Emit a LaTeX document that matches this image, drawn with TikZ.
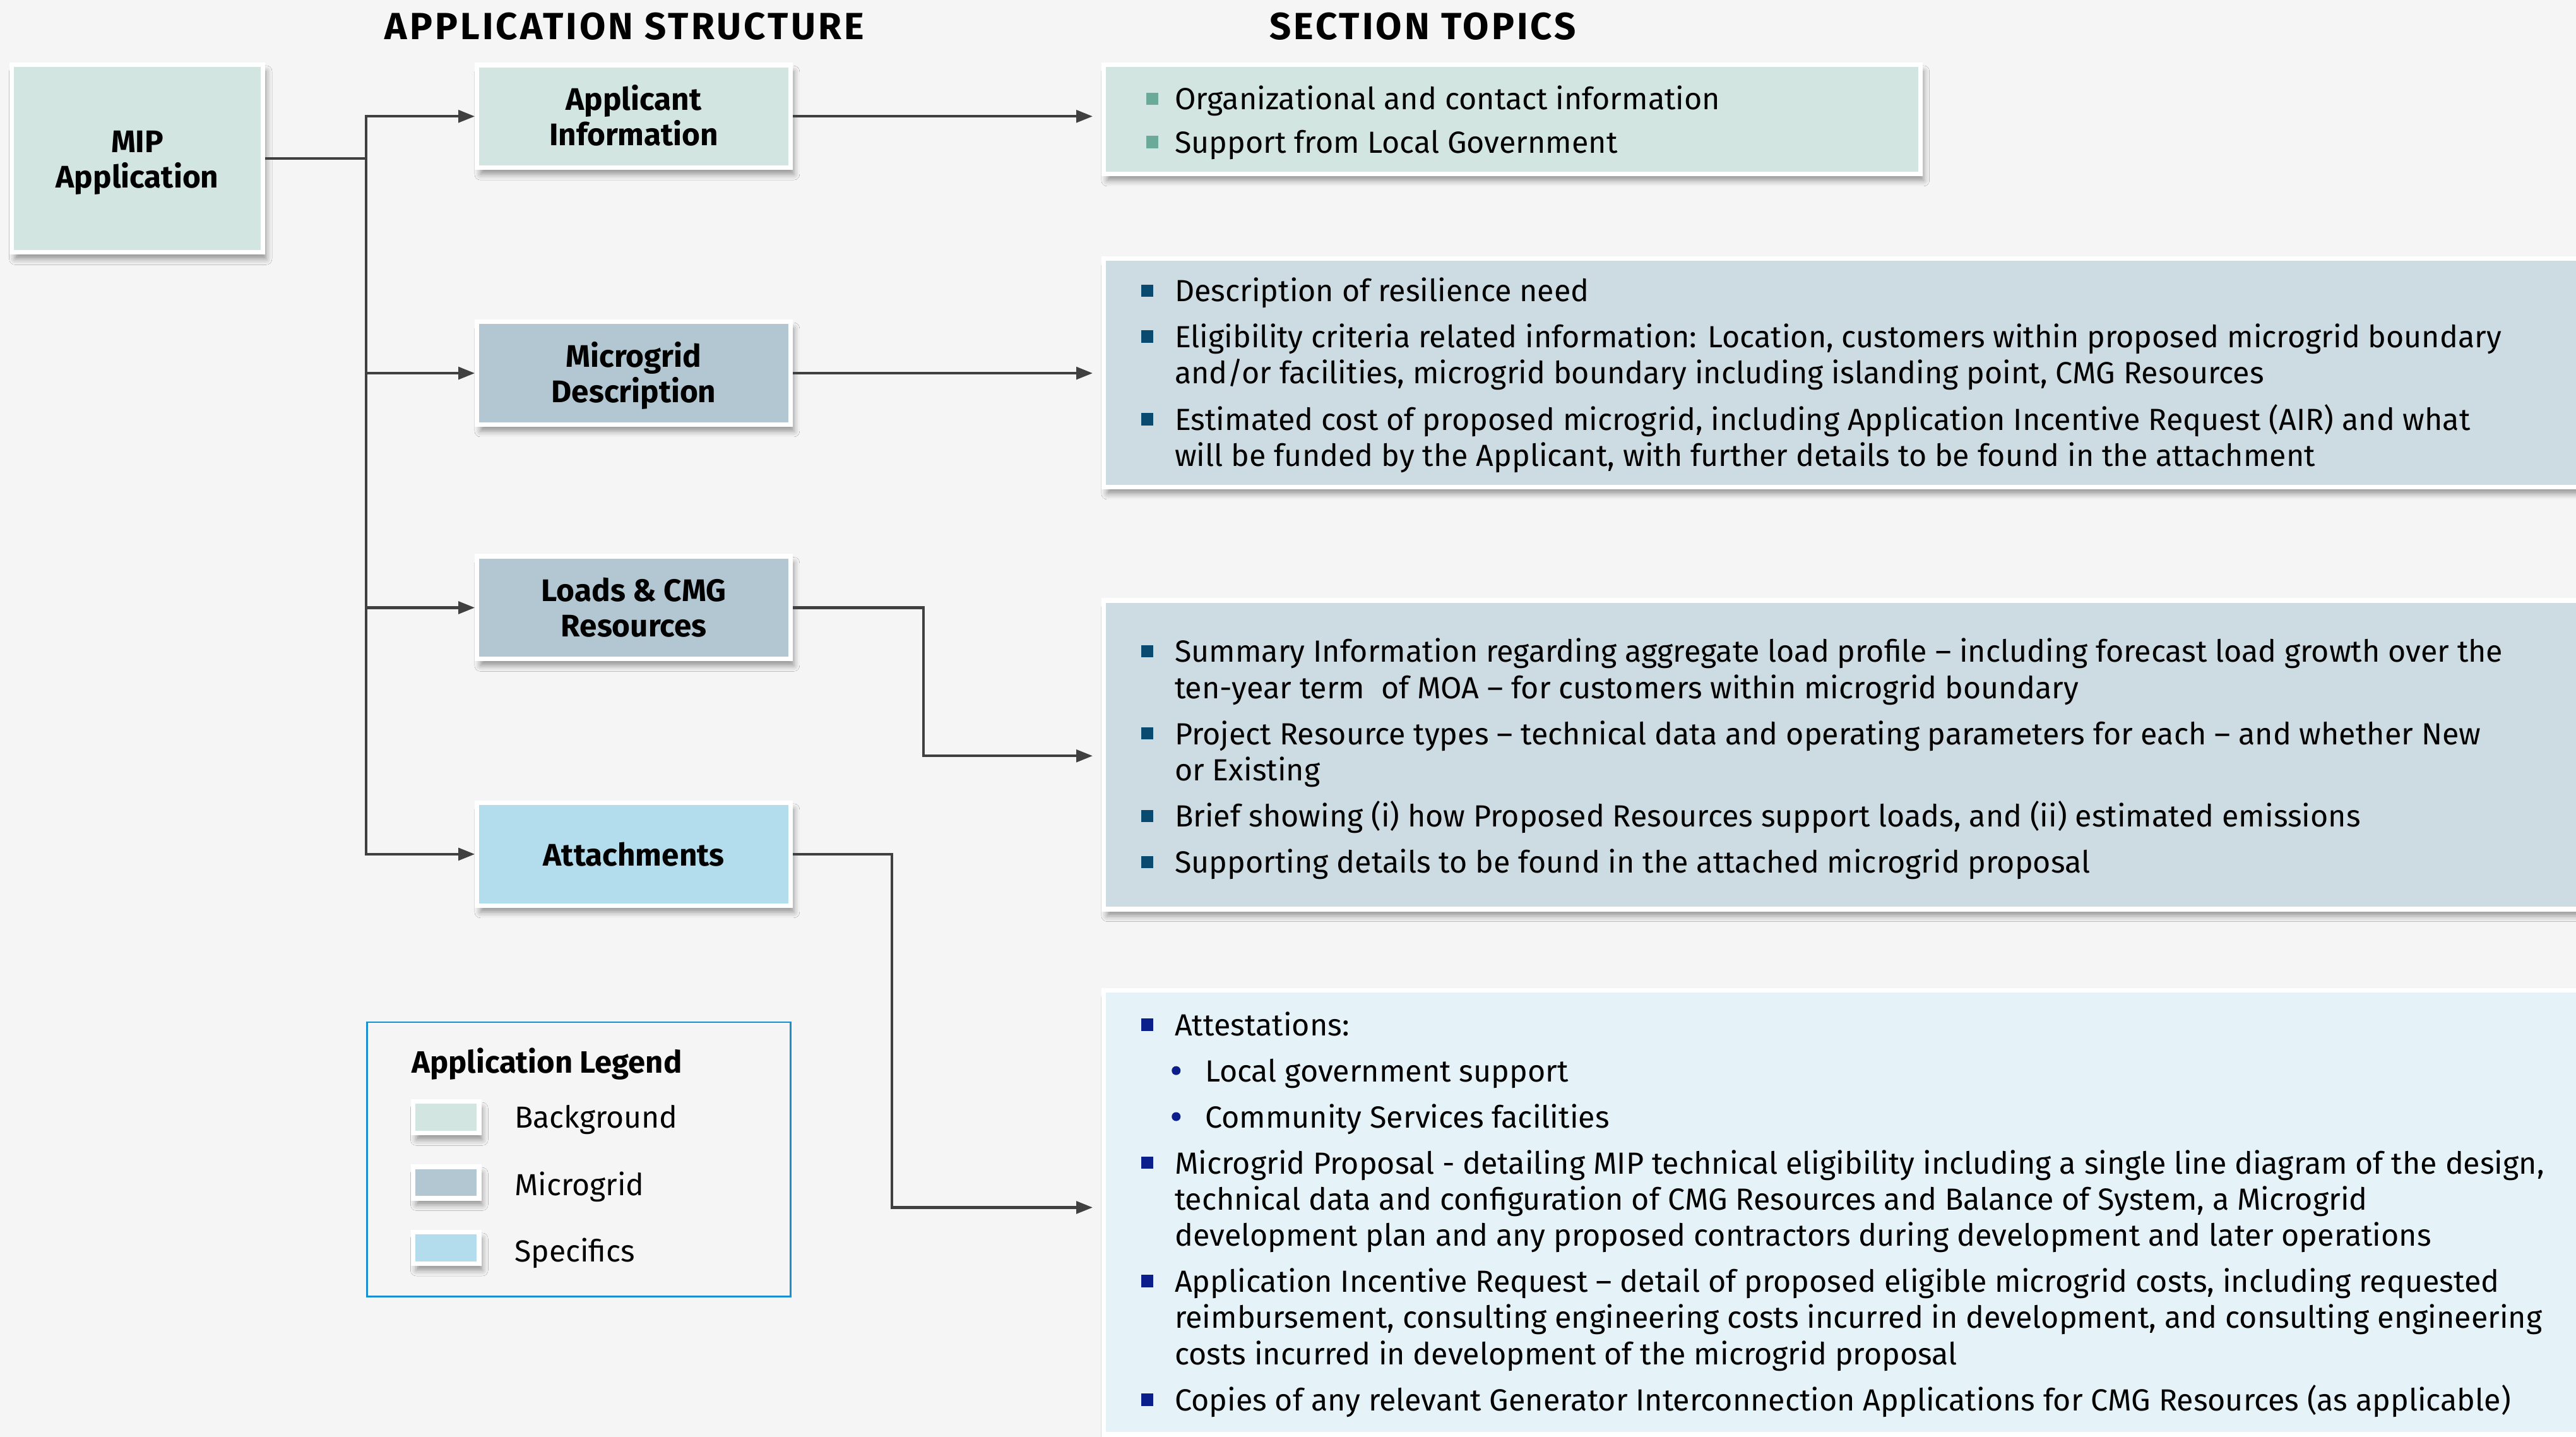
\documentclass[tikz,border=0pt]{standalone}
\usepackage{fontspec}
\setmainfont{Fira Sans}
\usetikzlibrary{arrows.meta,shadows.blur,calc}

% palette
\definecolor{pagebg}{HTML}{F5F5F5}
\definecolor{bgfill}{HTML}{D3E5E1}
\definecolor{mgfill}{HTML}{B3C7D2}
\definecolor{spfill}{HTML}{B3DDEC}
\definecolor{mglight}{HTML}{CDDBE2}
\definecolor{splight}{HTML}{E5F2F8}
\definecolor{tealbul}{HTML}{6BAA99}
\definecolor{bluebul}{HTML}{0B4A70}
\definecolor{navybul}{HTML}{0A1E8C}
\definecolor{legendframe}{HTML}{1A8FD0}
\definecolor{wire}{HTML}{404040}

% text sizes
\newcommand{\bodysize}{\fontsize{18.6}{22}\selectfont}
\newcommand{\labelsize}{\fontsize{19}{21.5}\selectfont\bfseries}
\newcommand{\headsize}{\fontsize{23}{26}\selectfont\bfseries\addfontfeature{LetterSpace=6.8}}

% two-line box label with fixed line metrics
\newcommand{\twoline}[2]{\rule{0pt}{19pt}#1\\#2\rule[-5pt]{0pt}{5pt}}

% bullet marks
\newcommand{\sqbul}[1]{\textcolor{#1}{\rule[3pt]{7.5pt}{7.5pt}}}
\newcommand{\subdot}{\tikz[baseline=0pt,x=1pt,y=1pt]\fill[navybul](0,6.8) circle (2.7);}
\newcommand{\dotentry}[1]{\makebox[18.4pt][l]{\hspace*{-1.9pt}\subdot}#1}

\tikzset{
  card/.style={draw=white, line width=2.8pt, inner sep=0pt,
    blur shadow={shadow xshift=2pt, shadow yshift=-4pt,
      shadow blur radius=3.5pt, shadow opacity=40}},
  sidebox/.style={card, minimum width=190.8pt, minimum height=62.5pt,
    align=center, font=\labelsize},
  topicbox/.style={card},
  topictext/.style={anchor=north west, inner sep=0pt, font=\bodysize},
  swatch/.style={card, minimum width=40.2pt, minimum height=19.2pt},
  legendlabel/.style={anchor=base west, inner sep=0pt, font=\fontsize{18.5}{22}\selectfont},
  wireline/.style={draw=wire, line width=1.6pt},
  wirearrow/.style={wireline, -{Triangle[length=10pt,width=7.5pt]}},
  heading/.style={anchor=base, inner sep=0pt, font=\headsize}
}

\begin{document}
\begin{tikzpicture}[x=1pt, y=-1pt]
  % page
  \useasboundingbox (0,0) rectangle (1568,874.48);
  \clip (0,0) rectangle (1568,874.48);
  \fill[pagebg] (0,0) rectangle (1568,874.48);

  % column headings
  \node[heading] (hstruct) at (380.1,23.9) {APPLICATION STRUCTURE};
  \node[heading] (htopics) at (866,23.9) {SECTION TOPICS};

  % application structure
  \node[card, fill=bgfill, minimum width=153pt, minimum height=114.2pt,
        align=center, font=\labelsize] (mip) at (83.6,96.5) {\twoline{MIP}{Application}};
  \node[sidebox, fill=bgfill] (app) at (385.8,70.8) {\twoline{Applicant}{Information}};
  \node[sidebox, fill=mgfill] (mgd) at (385.8,227.1) {\twoline{Microgrid}{Description}};
  \node[sidebox, fill=mgfill] (ldr) at (385.8,369.8) {\twoline{Loads \& CMG}{Resources}};
  \node[sidebox, fill=spfill] (att) at (385.8,519.8) {Attachments};

  % section topic panels
  \node[topicbox, fill=bgfill, minimum width=497pt, minimum height=66.4pt] (t1) at (920.4,72.6) {};
  \node[topicbox, fill=mglight, minimum width=946.7pt, minimum height=139pt] (t2) at (1145.25,226.9) {};
  \node[topicbox, fill=mglight, minimum width=946.7pt, minimum height=187.9pt] (t3) at (1145.25,459.35) {};
  \node[topicbox, fill=splight, minimum width=946.7pt, minimum height=270.2pt] (t4) at (1145.25,737.8) {};

  \node[topictext] (t1text) at (697.5,51.2) {%
    \begin{tabular}{@{}l@{\hspace{9.9pt}}l@{}}
      \sqbul{tealbul} & Organizational and contact information\\[4.5pt]
      \sqbul{tealbul} & Support from Local Government
    \end{tabular}};

  \node[topictext] (t2text) at (694.3,168.0) {%
    \begin{tabular}{@{}l@{\hspace{13.1pt}}l@{}}
      \sqbul{bluebul} & Description of resilience need\\[6pt]
      \sqbul{bluebul} & Eligibility criteria related information: Location, customers within proposed microgrid boundary\\
                      & and/or facilities, microgrid boundary including islanding point, CMG Resources\\[6pt]
      \sqbul{bluebul} & Estimated cost of proposed microgrid, including Application Incentive Request (AIR) and what\\
                      & will be funded by the Applicant, with further details to be found in the attachment
    \end{tabular}};

  \node[topictext] (t3text) at (694.3,387.4) {%
    \begin{tabular}{@{}l@{\hspace{13.1pt}}l@{}}
      \sqbul{bluebul} & Summary Information regarding aggregate load profile – including forecast load growth over the\\
                      & ten-year term\ \ of MOA – for customers within microgrid boundary\\[6pt]
      \sqbul{bluebul} & Project Resource types – technical data and operating parameters for each – and whether New\\
                      & or Existing\\[6pt]
      \sqbul{bluebul} & Brief showing (i) how Proposed Resources support loads, and (ii) estimated emissions\\[6pt]
      \sqbul{bluebul} & Supporting details to be found in the attached microgrid proposal
    \end{tabular}};

  \node[topictext] (t4text) at (694.3,614.7) {%
    \begin{tabular}{@{}l@{\hspace{13.1pt}}l@{}}
      \sqbul{navybul} & Attestations:\\[6pt]
                      & \dotentry{Local government support}\\[6pt]
                      & \dotentry{Community Services facilities}\\[6pt]
      \sqbul{navybul} & Microgrid Proposal - detailing MIP technical eligibility including a single line diagram of the design,\\
                      & technical data and configuration of CMG Resources and Balance of System, a Microgrid\\
                      & development plan and any proposed contractors during development and later operations\\[6pt]
      \sqbul{navybul} & Application Incentive Request – detail of proposed eligible microgrid costs, including requested\\
                      & reimbursement, consulting engineering costs incurred in development, and consulting engineering\\
                      & costs incurred in development of the microgrid proposal\\[6pt]
      \sqbul{navybul} & Copies of any relevant Generator Interconnection Applications for CMG Resources (as applicable)
    \end{tabular}};

  % connectors
  \coordinate (trunk) at (223,0);
  \draw[wireline] (mip.east) -- (mip.east -| trunk);
  \draw[wireline, line cap=rect] (app.west -| trunk) -- (att.west -| trunk);
  \foreach \b in {app,mgd,ldr,att}
    \draw[wirearrow] (\b.west -| trunk) -- (\b.west);
  \draw[wirearrow, shorten >=5.4pt] (app.east) -- (app.east -| t1.west);
  \draw[wirearrow, shorten >=5.4pt] (mgd.east) -- (mgd.east -| t2.west);
  \coordinate (bendL) at (562,460);
  \draw[wirearrow, shorten >=5.4pt] (ldr.east) -| (bendL) -- (bendL -| t3.west);
  \coordinate (bendA) at (543,734.8);
  \draw[wirearrow, shorten >=5.4pt] (att.east) -| (bendA) -- (bendA -| t4.west);

  % legend
  \node[draw=legendframe, line width=1.1pt, minimum width=257.9pt, minimum height=167pt,
        inner sep=0pt] (legend) at (352.4,705.55) {};
  \node[anchor=base west, inner sep=0pt, font=\fontsize{18.8}{22}\selectfont\bfseries]
        (legtitle) at (250.5,653) {Application Legend};
  \node[swatch, fill=bgfill] (swbg) at (271.5,680) {};
  \node[swatch, fill=mgfill] (swmg) at (271.5,719.6) {};
  \node[swatch, fill=spfill] (swsp) at (271.5,759.4) {};
  \node[legendlabel] (lbbg) at (313,686.5) {Background};
  \node[legendlabel] (lbmg) at (313,727.5) {Microgrid};
  \node[legendlabel] (lbsp) at (313,767.8) {Specifics};
\end{tikzpicture}
\end{document}
